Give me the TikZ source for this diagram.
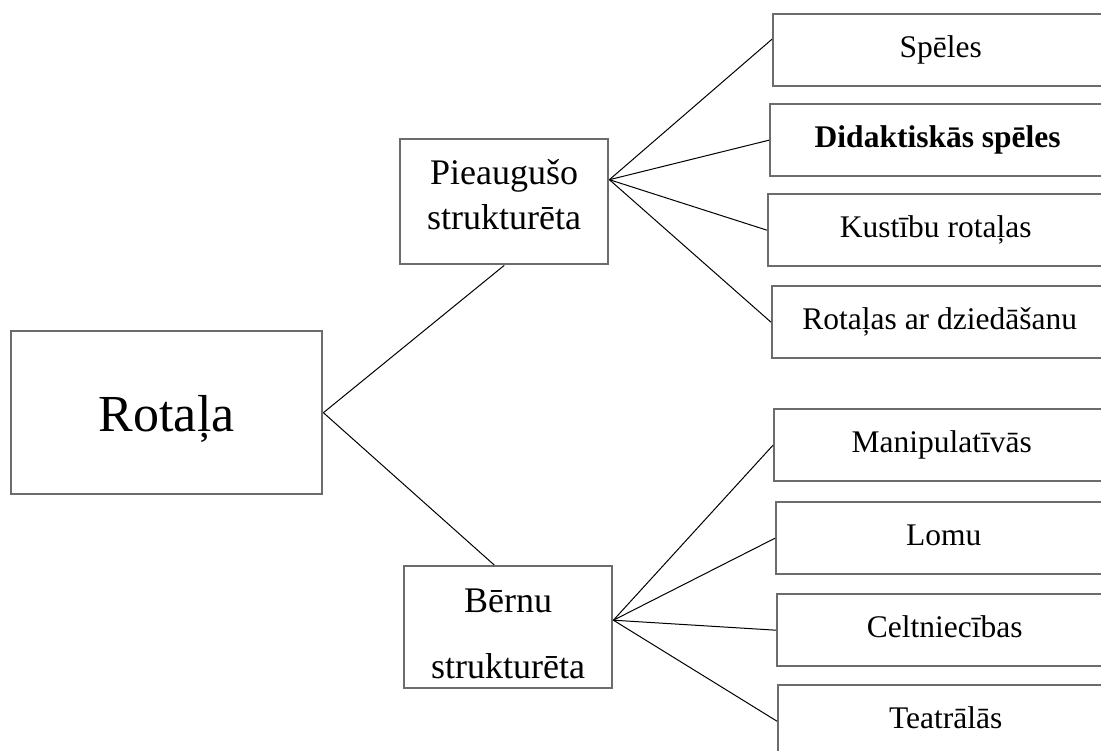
\documentclass[tikz,border=0pt]{standalone}
\usepackage{fontspec}
\setmainfont{Liberation Serif}
\usetikzlibrary{positioning}
\definecolor{boxgray}{RGB}{108,108,108}

\begin{document}
\begin{tikzpicture}[x=1pt, y=-1pt,
  box/.style={draw=boxgray, line width=2.4pt, inner sep=0pt, anchor=north west},
  leafbox/.style={box, minimum width=335pt, text height=43pt, text depth=29pt, font=\fontsize{31.5}{38}\selectfont},
  midbox/.style={box, minimum width=208pt, align=center},
  link/.style={line width=1pt}]
  \useasboundingbox (0,0) rectangle (1101,751);
  \clip (0,0) rectangle (1101,751);

  % Root
  \node[box, minimum width=311pt, text height=100pt, text depth=63pt, font=\fontsize{52}{60}\selectfont] (rotala) at (10,330) {Rotaļa};

  % Two kinds
  \node[midbox, text height=90pt, text depth=35pt, font=\fontsize{36}{45}\selectfont] (pieaug) at (399,138) {Pieaugušo\\strukturēta};
  \node[midbox, text height=112pt, text depth=10pt, font=\fontsize{36}{66}\selectfont] (bernu) at (403,565) {Bērnu\\strukturēta};

  % Leaves, upper group
  \node[leafbox] (speles) at (772,13) {Spēles};
  \node[leafbox] (didakt) at (769,103) {\textbf{Didaktiskās spēles}};
  \node[leafbox] (kustibu) at (767,193) {Kustību rotaļas};
  \node[leafbox] (dziedas) at (771,285) {Rotaļas ar dziedāšanu};

  % Leaves, lower group
  \node[leafbox] (manip) at (773,408) {Manipulatīvās};
  \node[leafbox] (lomu) at (775,501) {Lomu};
  \node[leafbox] (celtn) at (776,593) {Celtniecības};
  \node[leafbox] (teatr) at (777,684) {Teatrālās};

  \draw[link] (rotala.east) -- (pieaug.south);
  \draw[link] (rotala.east) -- ([xshift=-14pt]bernu.north);

  \draw[link] ([yshift=22pt]pieaug.east) -- ([yshift=11pt]speles.west);
  \draw[link] ([yshift=22pt]pieaug.east) -- (didakt.west);
  \draw[link] ([yshift=22pt]pieaug.east) -- (kustibu.west);
  \draw[link] ([yshift=22pt]pieaug.east) -- (dziedas.west);

  \draw[link] ([yshift=7pt]bernu.east) -- (manip.west);
  \draw[link] ([yshift=7pt]bernu.east) -- (lomu.west);
  \draw[link] ([yshift=7pt]bernu.east) -- (celtn.west);
  \draw[link] ([yshift=7pt]bernu.east) -- (teatr.west);
\end{tikzpicture}
\end{document}
